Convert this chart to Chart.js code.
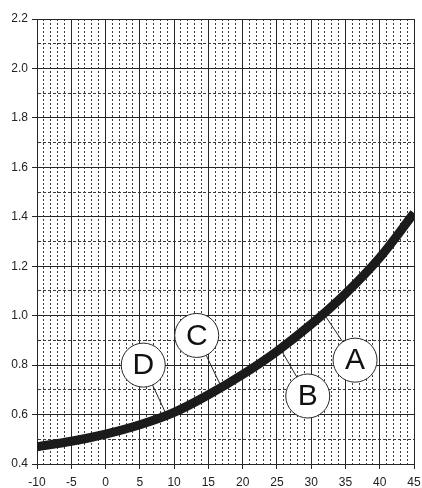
<!DOCTYPE html>
<html><head><meta charset="utf-8">
<script src="https://cdn.jsdelivr.net/npm/chart.js@4/dist/chart.umd.min.js"></script>
<style>html,body{margin:0;padding:0;background:#fff}#wrap{width:422px;height:488px}</style>
</head><body><div id="wrap"><canvas id="c" width="422" height="488"></canvas></div>
<script>
const temperatures = [-10, -5, 0, 5, 10, 15, 20, 25, 30, 35, 40, 45];
const values = [0.47, 0.492, 0.521, 0.559, 0.609, 0.68, 0.762, 0.856, 0.965, 1.089, 1.235, 1.415];
const xTickValues = [-10, -5, 0, 5, 10, 15, 20, 25, 30, 35, 40, 45];
const yTickLabels = ['0.4', '0.6', '0.8', '1.0', '1.2', '1.4', '1.6', '1.8', '2.0', '2.2'];
const markerNames = ['A', 'B', 'C', 'D'];
const markerCurveX = [31.8, 25.5, 16.9, 8.9];
const markerCenterX = [36.4, 29.5, 13.3, 5.5];
const markerCenterY = [0.82, 0.675, 0.92, 0.80];

const DARK = '#262626';
function curveAt(x) {
  for (let i = 0; i < temperatures.length - 1; i++) {
    if (x >= temperatures[i] && x <= temperatures[i + 1]) {
      const t = (x - temperatures[i]) / (temperatures[i + 1] - temperatures[i]);
      return values[i] + t * (values[i + 1] - values[i]);
    }
  }
  return values[values.length - 1];
}
const isMajorX = v => Math.abs(v % 5) < 1e-6;
const isMajorY = v => Math.round(v * 10) % 2 === 0;

const markerPlugin = {
  id: 'markers',
  beforeDatasetsDraw(chart) {
    const {ctx, scales: {x, y}} = chart;
    ctx.save();
    ctx.strokeStyle = DARK;
    ctx.lineWidth = 1;
    markerNames.forEach((n, i) => {
      ctx.beginPath();
      ctx.moveTo(x.getPixelForValue(markerCenterX[i]), y.getPixelForValue(markerCenterY[i]));
      ctx.lineTo(x.getPixelForValue(markerCurveX[i]), y.getPixelForValue(curveAt(markerCurveX[i])));
      ctx.stroke();
    });
    ctx.restore();
  },
  afterDatasetsDraw(chart) {
    const {ctx, scales: {x, y}} = chart;
    ctx.save();
    markerNames.forEach((n, i) => {
      const cx = x.getPixelForValue(markerCenterX[i]);
      const cy = y.getPixelForValue(markerCenterY[i]);
      ctx.beginPath();
      ctx.arc(cx, cy, 22, 0, Math.PI * 2);
      ctx.fillStyle = '#fff';
      ctx.fill();
      ctx.strokeStyle = DARK;
      ctx.lineWidth = 1;
      ctx.stroke();
      ctx.fillStyle = '#111';
      ctx.font = '30px "Liberation Sans", Arial, sans-serif';
      ctx.textAlign = 'center';
      ctx.textBaseline = 'middle';
      ctx.fillText(n, cx, cy + 1);
    });
    ctx.restore();
  }
};

new Chart(document.getElementById('c'), {
  type: 'line',
  data: {
    datasets: [{
      data: temperatures.map((t, i) => ({x: t, y: values[i]})),
      borderColor: '#1b1b1b',
      borderWidth: 9,
      pointRadius: 0,
      fill: false,
      tension: 0.4,
      borderCapStyle: 'butt'
    }]
  },
  options: {
    responsive: false,
    animation: false,
    layout: {padding: {top: 19, right: 8, left: 0, bottom: 0}},
    plugins: {legend: {display: false}, tooltip: {enabled: false}},
    scales: {
      x: {
        type: 'linear', min: -10, max: 45,
        afterBuildTicks: s => {
          const t = [];
          for (let v = -10; v <= 45; v++) t.push({value: v});
          s.ticks = t;
        },
        afterFit: s => { s.height = 24; s.paddingLeft = 0; s.paddingRight = 0; },
        ticks: {
          autoSkip: false, maxRotation: 0, padding: 6,
          color: '#222',
          font: {family: '"Liberation Sans", Arial, sans-serif', size: 12},
          callback: v => (isMajorX(v) && xTickValues.includes(v)) ? String(v) : ''
        },
        grid: {
          color: c => (c.tick && !isMajorX(c.tick.value)) ? '#3a3a3a' : DARK,
          lineWidth: 1,
          tickLength: 5,
          tickColor: c => (c.tick && !isMajorX(c.tick.value)) ? 'rgba(0,0,0,0)' : DARK
        },
        border: {
          display: true, color: DARK,
          dash: c => (c.tick && !isMajorX(c.tick.value)) ? [2, 2] : []
        }
      },
      y: {
        type: 'linear', min: 0.4, max: 2.2,
        afterBuildTicks: s => {
          const t = [];
          for (let k = 4; k <= 22; k++) t.push({value: k / 10});
          s.ticks = t;
        },
        afterFit: s => { s.width = 37; s.paddingTop = 0; s.paddingBottom = 0; },
        ticks: {
          autoSkip: false, padding: 4,
          color: '#222',
          font: {family: '"Liberation Sans", Arial, sans-serif', size: 12},
          callback: v => {
            if (!isMajorY(v)) return '';
            const idx = Math.round((v - 0.4) * 5);
            return yTickLabels[idx] || '';
          }
        },
        grid: {
          color: c => (c.tick && !isMajorY(c.tick.value)) ? '#3a3a3a' : DARK,
          lineWidth: 1,
          tickLength: 5,
          tickColor: c => (c.tick && !isMajorY(c.tick.value)) ? 'rgba(0,0,0,0)' : DARK
        },
        border: {
          display: true, color: DARK,
          dash: c => (c.tick && !isMajorY(c.tick.value)) ? [3, 2] : []
        }
      }
    }
  },
  plugins: [markerPlugin]
});
</script>
</body></html>
